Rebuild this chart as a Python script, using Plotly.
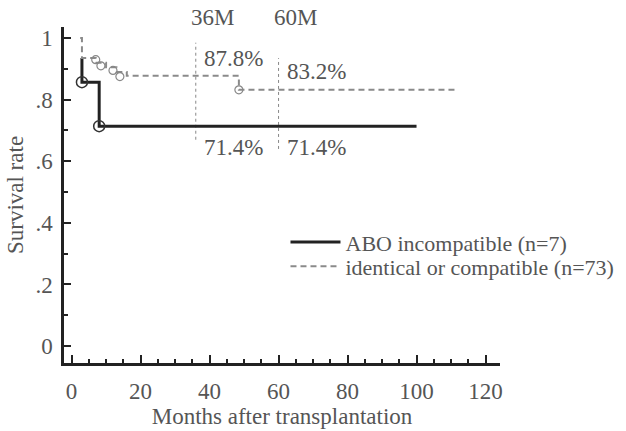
import plotly.graph_objects as go

# ABO incompatible (n=7)
months_incompat = [3, 3, 8, 100]
surv_incompat = [0.935, 0.857, 0.714, 0.714]
cens_incompat_x = [3, 8]
cens_incompat_y = [0.857, 0.714]

# identical or compatible (n=73)
months_compat = [2.5, 3, 7, 10, 13, 16, 48.5, 112]
surv_compat = [1.0, 0.935, 0.92, 0.905, 0.89, 0.878, 0.832, 0.832]
cens_compat_x = [7, 8.5, 12, 14, 48.5]
cens_compat_y = [0.93, 0.91, 0.895, 0.875, 0.832]

# landmarks
landmark_months = [36, 60]
landmark_labels = ["36M", "60M"]
compat_pct = ["87.8%", "83.2%"]
compat_pct_y = [0.935, 0.89]
incompat_pct = ["71.4%", "71.4%"]
incompat_pct_y = [0.646, 0.646]
landmark_top = [0.985, 0.935]
landmark_bottom = [0.67, 0.64]

x_ticks = [0, 20, 40, 60, 80, 100, 120]
y_ticks = [0, 0.2, 0.4, 0.6, 0.8, 1.0]
y_ticktext = ["0", ".2", ".4", ".6", ".8", "1"]

FONT = "Liberation Serif"
TXT = "#555555"

fig = go.Figure()

# landmark dotted verticals
for m, top, bot in zip(landmark_months, landmark_top, landmark_bottom):
    fig.add_trace(go.Scatter(x=[m, m], y=[bot, top], mode="lines",
                             line=dict(color="#888888", width=1, dash="dot"),
                             showlegend=False, hoverinfo="skip"))

fig.add_trace(go.Scatter(x=months_incompat, y=surv_incompat, mode="lines",
                         line=dict(color="#222222", width=3, shape="hv"),
                         name="ABO incompatible (n=7)", legend="legend"))
fig.add_trace(go.Scatter(x=months_compat, y=surv_compat, mode="lines",
                         line=dict(color="#8a8a8a", width=2, shape="hv", dash="6px,4px"),
                         name="identical or compatible (n=73)", legend="legend2"))
fig.add_trace(go.Scatter(x=cens_incompat_x, y=cens_incompat_y, mode="markers",
                         marker=dict(symbol="circle-open", size=11, color="#333333",
                                     line=dict(width=1.5, color="#333333")),
                         showlegend=False))
fig.add_trace(go.Scatter(x=cens_compat_x, y=cens_compat_y, mode="markers",
                         marker=dict(symbol="circle-open", size=8, color="#888888",
                                     line=dict(width=1.2, color="#888888")),
                         showlegend=False))

ann = []
for m, lab in zip(landmark_months, landmark_labels):
    ann.append(dict(x=m, y=1.027, xref="x", yref="paper", text=lab, showarrow=False,
                    xanchor="left", yanchor="middle", xshift=-7,
                    font=dict(family=FONT, size=23, color=TXT)))
for m, t, yy in zip(landmark_months, compat_pct, compat_pct_y):
    ann.append(dict(x=m, y=yy, xref="x", yref="y", text=t, showarrow=False,
                    xanchor="left", yanchor="middle", xshift=6,
                    font=dict(family=FONT, size=23, color=TXT)))
for m, t, yy in zip(landmark_months, incompat_pct, incompat_pct_y):
    ann.append(dict(x=m, y=yy, xref="x", yref="y", text=t, showarrow=False,
                    xanchor="left", yanchor="middle", xshift=6,
                    font=dict(family=FONT, size=23, color=TXT)))

leg_common = dict(xanchor="left", yanchor="top", bgcolor="rgba(0,0,0,0)",
                  font=dict(family=FONT, size=22, color=TXT), itemwidth=50)

fig.update_layout(
    width=626, height=431,
    margin=dict(l=64, r=126, t=27, b=68, autoexpand=False),
    paper_bgcolor="white", plot_bgcolor="white",
    font=dict(family=FONT, size=23, color=TXT),
    annotations=ann,
    legend=dict(x=0.508, y=0.422, **leg_common),
    legend2=dict(x=0.508, y=0.350, **leg_common),
    xaxis=dict(range=[-2.2, 124.2], showgrid=False, zeroline=False,
               showline=True, linecolor="#222222", linewidth=2.5,
               tickvals=x_ticks, ticks="inside", ticklen=8, tickwidth=2, tickcolor="#222222",
               ticklabelstandoff=6,
               minor=dict(dtick=5, ticks="inside", ticklen=4, tickwidth=1.5, tickcolor="#222222"),
               title=dict(text="Months after transplantation", standoff=2,
                          font=dict(family=FONT, size=23, color=TXT))),
    yaxis=dict(range=[-0.055, 1.036], showgrid=False, zeroline=False,
               showline=True, linecolor="#222222", linewidth=2.5,
               tickvals=y_ticks, ticktext=y_ticktext, ticks="inside", ticklen=7, tickwidth=2,
               tickcolor="#222222", ticklabelstandoff=4,
               minor=dict(dtick=0.1, tick0=0, ticks="inside", ticklen=4, tickwidth=1.5, tickcolor="#222222"),
               title=dict(text="Survival rate", standoff=6,
                          font=dict(family=FONT, size=23, color=TXT))),
)

fig.write_html("out.html")
